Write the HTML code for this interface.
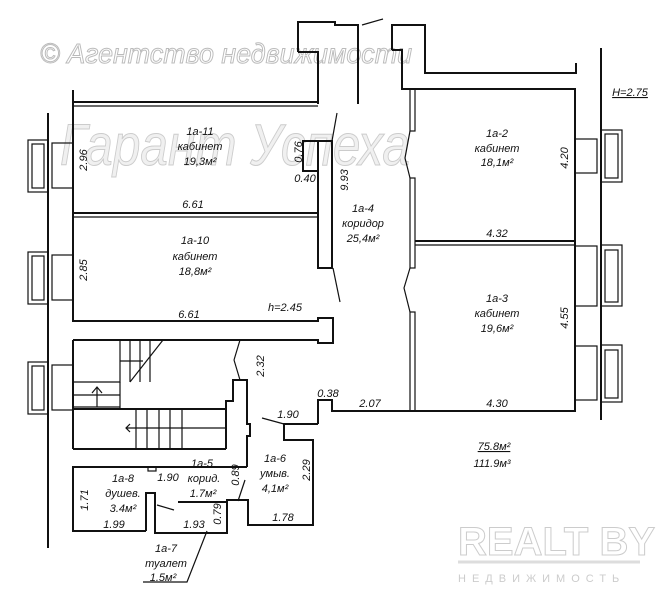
<!DOCTYPE html>
<html><head><meta charset="utf-8"><style>
html,body{margin:0;padding:0;background:#fff;}
svg{display:block}
text{font-family:"Liberation Sans",sans-serif;font-style:italic;font-size:11px;fill:#111;}
.w{fill:none;stroke:#111;stroke-width:2;}
.t{fill:none;stroke:#111;stroke-width:1.2;}
.wm{fill:#fff;stroke:#bbb;stroke-width:1;font-style:italic;}
</style></head><body>
<svg width="659" height="602" viewBox="0 0 659 602" xmlns="http://www.w3.org/2000/svg">
<!-- watermarks -->
<text class="wm" x="40" y="63" textLength="372" lengthAdjust="spacingAndGlyphs" style="font-size:28px">© Агентство недвижимости</text>
<text class="wm" x="60" y="165" textLength="350" lengthAdjust="spacingAndGlyphs" style="font-size:58px;fill:#f0f0f0;stroke:#ccc">Гарант Успеха</text>
<text class="wm" x="458" y="555" style="font-size:40px;font-style:normal;font-weight:bold;fill:#fff;stroke:#ccc">REALT BY</text>
<line x1="458" y1="562" x2="640" y2="562" stroke="#ddd" stroke-width="3"/>
<text x="458" y="582" style="font-size:11px;font-style:normal;fill:#ccc;letter-spacing:6px">НЕДВИЖИМОСТЬ</text>
<!-- outer walls -->
<line class="w" x1="48" y1="113" x2="48" y2="548"/>
<line class="w" x1="601" y1="48" x2="601" y2="420"/>
<line class="w" x1="73" y1="90" x2="73" y2="322"/>
<line class="w" x1="73" y1="102" x2="318" y2="102"/>
<line class="t" x1="73" y1="106" x2="318" y2="106"/>
<polyline class="w" points="298,52 298,22 335,22 335,25 358,25 358,104"/>
<polyline class="w" points="298,52 318,52 318,104"/>
<line class="t" x1="362" y1="25" x2="383" y2="19"/>
<polyline class="w" points="392,50 392,25 425,25 425,73 576,73 576,63"/>
<polyline class="w" points="392,50 402,50 402,89 576,89"/>
<line class="w" x1="73" y1="213" x2="318" y2="213"/>
<line class="t" x1="73" y1="217" x2="318" y2="217"/>
<polyline class="w" points="73,321 318,321 318,318 333,318 333,343 318,343 318,340 73,340"/>
<rect class="w" x="318" y="141" width="14" height="127"/>
<rect class="w" x="303" y="141" width="15" height="30"/>
<line class="t" x1="337" y1="113" x2="332" y2="141"/>
<line class="t" x1="333" y1="268" x2="340" y2="302"/>
<line class="t" x1="240" y1="340" x2="234" y2="360"/>
<line class="t" x1="234" y1="360" x2="240" y2="380"/>
<rect class="t" x="410" y="89" width="5" height="42"/>
<rect class="t" x="410" y="178" width="5" height="90"/>
<rect class="t" x="410" y="312" width="5" height="99"/>
<polyline class="t" points="410,131 405,158 410,178"/>
<polyline class="t" points="410,268 404,288 410,312"/>
<line class="w" x1="575" y1="89" x2="575" y2="411"/>
<line class="w" x1="415" y1="241" x2="575" y2="241"/>
<line class="t" x1="415" y1="245" x2="575" y2="245"/>
<polyline class="w" points="318,424 318,400 332,400 332,411 576,411"/>
<g class="t">
<rect x="575" y="139" width="22" height="34"/><rect x="601" y="130" width="21" height="52"/><rect x="605" y="134" width="13" height="44"/>
<rect x="575" y="246" width="22" height="60"/><rect x="601" y="245" width="21" height="61"/><rect x="605" y="250" width="13" height="52"/>
<rect x="575" y="346" width="22" height="54"/><rect x="601" y="345" width="21" height="57"/><rect x="605" y="350" width="13" height="48"/>
</g>
<g class="t">
<rect x="52" y="143" width="21" height="45"/><rect x="28" y="140" width="20" height="52"/><rect x="32" y="144" width="12" height="44"/>
<rect x="52" y="255" width="21" height="45"/><rect x="28" y="252" width="20" height="52"/><rect x="32" y="256" width="12" height="44"/>
<rect x="52" y="365" width="21" height="45"/><rect x="28" y="362" width="20" height="52"/><rect x="32" y="366" width="12" height="44"/>
</g>
<line class="w" x1="73" y1="340" x2="73" y2="449"/>
<g class="t">
<polyline points="73,382 120,382 120,340"/>
<line x1="130" y1="340" x2="130" y2="382"/><line x1="140" y1="340" x2="140" y2="382"/><line x1="150" y1="340" x2="150" y2="382"/>
<line x1="120" y1="361" x2="143" y2="361"/>
<line x1="163" y1="340" x2="130" y2="382"/>
<line x1="73" y1="395" x2="120" y2="395"/><line x1="73" y1="407" x2="120" y2="407"/>
<line x1="97" y1="407" x2="97" y2="388"/><polyline points="92,393 97,387 102,393"/>
<line x1="120" y1="382" x2="120" y2="408"/>
<line x1="126" y1="428" x2="225" y2="428"/>
</g>
<line class="w" x1="73" y1="409" x2="226" y2="409"/>
<line class="w" x1="73" y1="449" x2="226" y2="449"/>
<g class="t">
<line x1="136" y1="409" x2="136" y2="449"/><line x1="147" y1="409" x2="147" y2="449"/><line x1="159" y1="409" x2="159" y2="449"/>
<line x1="170" y1="409" x2="170" y2="449"/><line x1="182" y1="409" x2="182" y2="449"/>
<polyline points="130,424 126,428 130,432"/>
</g>
<polyline class="w" points="226,449 226,401 233,401 233,380 247,380 247,424 250,424 250,436 247,436 247,467"/>
<polyline class="w" points="247,467 73,467 73,531 146,531"/>
<rect class="t" x="148" y="467" width="8" height="4"/>
<polyline class="w" points="146,531 146,493 155,493 155,533 227,533 227,500 248,500 248,525 313,525 313,440 284,440 284,424 318,424"/>
<line class="w" x1="178" y1="502" x2="227" y2="502"/>
<line class="t" x1="157" y1="505" x2="174" y2="510"/>
<line class="t" x1="238" y1="501" x2="245" y2="480"/>
<line class="t" x1="262" y1="418" x2="284" y2="424"/>
<polyline class="t" points="207,531 187,582 143,582"/>
<g text-anchor="middle">
<text x="200" y="135">1a-11</text><text x="200" y="150">кабинет</text><text x="200" y="165">19,3м²</text>
<text x="195" y="244">1a-10</text><text x="195" y="260">кабинет</text><text x="195" y="275">18,8м²</text>
<text x="193" y="208">6.61</text><text x="189" y="318">6.61</text>
<text x="285" y="311">h=2.45</text>
<text x="363" y="212">1a-4</text><text x="363" y="227">коридор</text><text x="363" y="242">25,4м²</text>
<text x="497" y="137">1a-2</text><text x="497" y="152">кабинет</text><text x="497" y="166">18,1м²</text>
<text x="497" y="237">4.32</text>
<text x="497" y="302">1a-3</text><text x="497" y="317">кабинет</text><text x="497" y="332">19,6м²</text>
<text x="497" y="407">4.30</text><text x="370" y="407">2.07</text><text x="328" y="397">0.38</text>
<text x="630" y="96" style="text-decoration:underline">H=2.75</text>
<text x="305" y="182">0.40</text>
<text x="288" y="418">1.90</text>
<text x="123" y="482">1a-8</text><text x="123" y="497">душев.</text><text x="123" y="512">3.4м²</text><text x="114" y="528">1.99</text>
<text x="168" y="481">1.90</text>
<text x="202" y="467">1a-5</text><text x="204" y="482">корид.</text><text x="203" y="497">1.7м²</text>
<text x="194" y="528">1.93</text>
<text x="166" y="552">1a-7</text><text x="166" y="567">туалет</text><text x="163" y="581">1.5м²</text>
<text x="275" y="462">1a-6</text><text x="275" y="477">умыв.</text><text x="275" y="492">4,1м²</text>
<text x="283" y="521">1.78</text>
<text x="494" y="450" style="text-decoration:underline">75.8м²</text><text x="492" y="467">111.9м³</text>
</g>
<g text-anchor="middle">
<text transform="translate(87,160) rotate(-90)">2.96</text>
<text transform="translate(87,270) rotate(-90)">2.85</text>
<text transform="translate(302,152) rotate(-90)">0.76</text>
<text transform="translate(348,180) rotate(-90)">9.93</text>
<text transform="translate(568,158) rotate(-90)">4.20</text>
<text transform="translate(568,318) rotate(-90)">4.55</text>
<text transform="translate(264,366) rotate(-90)">2.32</text>
<text transform="translate(88,500) rotate(-90)">1.71</text>
<text transform="translate(239,475) rotate(-90)">0.89</text>
<text transform="translate(221,514) rotate(-90)">0.79</text>
<text transform="translate(310,470) rotate(-90)">2.29</text>
</g>
</svg>
</body></html>
